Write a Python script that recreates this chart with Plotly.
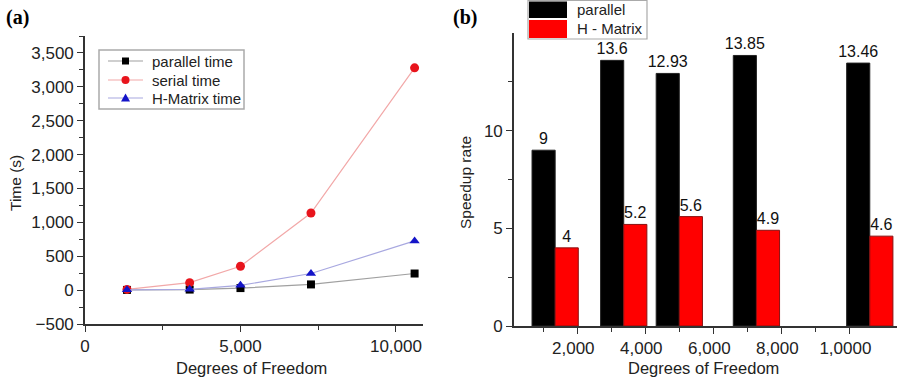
import plotly.graph_objects as go

# ---------------- data ----------------
dof = [1350, 3366, 5000, 7267, 10600]
parallel_time = [3, 8, 30, 84, 245]
serial_time = [10, 110, 353, 1138, 3280]
hmatrix_time = [5, 12, 70, 245, 726]

speedup_parallel = [9, 13.6, 12.93, 13.85, 13.46]
speedup_hmatrix = [4, 5.2, 5.6, 4.9, 4.6]

b_tickvals = [2000, 4000, 6000, 8000, 10000]
b_ticktext = ["2,000", "4,000", "6,000", "8,000", "1,0000"]

W, H = 902, 377
FONT = "Liberation Sans, Arial, sans-serif"
AX = "#333333"

C_PAR_LINE, C_PAR_MK = "#a0a0a0", "black"
C_SER_LINE, C_SER_MK = "#f2a8a8", "#e8141c"
C_HM_LINE, C_HM_MK = "#a8a8e0", "#1414c8"


def px_x(x):
    return x / W


def px_y(y):
    return 1 - y / H


fig = go.Figure()

# ---------------- panel (a) ----------------
fig.add_trace(go.Scatter(
    x=dof, y=parallel_time, name="parallel time", mode="lines+markers",
    line=dict(color=C_PAR_LINE, width=1.2),
    marker=dict(symbol="square", color=C_PAR_MK, size=8),
    xaxis="x", yaxis="y"))
fig.add_trace(go.Scatter(
    x=dof, y=serial_time, name="serial time", mode="lines+markers",
    line=dict(color=C_SER_LINE, width=1.2),
    marker=dict(symbol="circle", color=C_SER_MK, size=9),
    xaxis="x", yaxis="y"))
fig.add_trace(go.Scatter(
    x=dof, y=hmatrix_time, name="H-Matrix time", mode="lines+markers",
    line=dict(color=C_HM_LINE, width=1.2),
    marker=dict(symbol="triangle-up", color=C_HM_MK, size=9),
    xaxis="x", yaxis="y"))

# ---------------- panel (b) ----------------
BW = 680
fig.add_trace(go.Bar(
    x=dof, y=speedup_parallel, name="parallel", width=BW, offset=-BW,
    marker=dict(color="black", line=dict(color="#222", width=1)),
    text=[f"{v:g}" for v in speedup_parallel], textposition="outside",
    constraintext="none", cliponaxis=False,
    textfont=dict(family=FONT, size=16, color="#111"),
    xaxis="x2", yaxis="y2"))
fig.add_trace(go.Bar(
    x=dof, y=speedup_hmatrix, name="H - Matrix", width=BW, offset=0,
    marker=dict(color="#ff0000", line=dict(color="#8a1010", width=1)),
    text=[f"{v:g}" for v in speedup_hmatrix], textposition="outside",
    constraintext="none", cliponaxis=False,
    textfont=dict(family=FONT, size=16, color="#111"),
    xaxis="x2", yaxis="y2"))

axis_common = dict(
    showline=True, linecolor=AX, linewidth=1.6, ticks="outside",
    tickcolor=AX, tickwidth=1.3, ticklen=6, showgrid=False, zeroline=False,
    tickfont=dict(family=FONT, size=17, color="#222"), mirror=False,
)

fig.update_layout(
    width=W, height=H,
    margin=dict(l=0, r=0, t=0, b=0, autoexpand=False),
    paper_bgcolor="white", plot_bgcolor="white",
    font=dict(family=FONT, color="#222"),
    barmode="overlay",
    showlegend=False,
    xaxis=dict(domain=[px_x(85), px_x(423)], range=[0, 10870], anchor="y",
               tickvals=[0, 5000, 10000], ticktext=["0", "5,000", "10,000"],
               minor=dict(ticks="outside", tickvals=[2500, 7500], ticklen=4, tickcolor=AX),
               **axis_common),
    yaxis=dict(domain=[px_y(324), px_y(36)], range=[-500, 3750], anchor="x",
               tickvals=[-500, 0, 500, 1000, 1500, 2000, 2500, 3000, 3500],
               ticktext=["\u2212500", "0", "500", "1,000", "1,500", "2,000", "2,500", "3,000", "3,500"],
               minor=dict(ticks="outside", dtick=250, ticklen=4, tickcolor=AX),
               **axis_common),
    xaxis2=dict(domain=[px_x(514), px_x(897)], range=[140, 11400], anchor="y2",
                tickvals=b_tickvals, ticktext=b_ticktext, ticklabelshift=-4,
                minor=dict(ticks="outside", tickvals=[1000, 3000, 5000, 7000, 9000], ticklen=4, tickcolor=AX),
                **axis_common),
    yaxis2=dict(domain=[px_y(326), px_y(33)], range=[0, 15], anchor="x2",
                tickvals=[0, 5, 10],
                minor=dict(ticks="outside", tickvals=[2.5, 7.5, 12.5], ticklen=4, tickcolor=AX),
                **axis_common),
)

annotations = [
    dict(text="<b>(a)</b>", x=px_x(4), y=px_y(18), xanchor="left", yanchor="middle",
         font=dict(family="Liberation Serif, Times New Roman, serif", size=20, color="black")),
    dict(text="<b>(b)</b>", x=px_x(451), y=px_y(18), xanchor="left", yanchor="middle",
         font=dict(family="Liberation Serif, Times New Roman, serif", size=20, color="black")),
    dict(text="Time (s)", x=px_x(15), y=px_y(183), textangle=-90, xanchor="center", yanchor="middle",
         font=dict(family=FONT, size=15.5, color="#222")),
    dict(text="Speedup rate", x=px_x(465), y=px_y(183), textangle=-90, xanchor="center", yanchor="middle",
         font=dict(family=FONT, size=15.5, color="#222")),
    dict(text="Degrees of Freedom", x=px_x(251), y=px_y(368), xanchor="center", yanchor="middle",
         font=dict(family=FONT, size=16.5, color="#222")),
    dict(text="Degrees of Freedom", x=px_x(703), y=px_y(368), xanchor="center", yanchor="middle",
         font=dict(family=FONT, size=16.5, color="#222")),
]
shapes = []

# legend for panel (a): built from the trace names / styles
legend_a_rows = [61, 80, 98]
shapes.append(dict(type="rect", x0=px_x(99), x1=px_x(244), y0=px_y(109), y1=px_y(50),
                   line=dict(color="#aaaaaa", width=1.5), fillcolor="white", layer="above"))
for tr, yy in zip(fig.data[:3], legend_a_rows):
    shapes.append(dict(type="line", x0=px_x(108), x1=px_x(143), y0=px_y(yy), y1=px_y(yy),
                       line=dict(color=tr.line.color, width=1.2), layer="above"))
    mx, r = 125.5, 3.5
    sym = tr.marker.symbol
    col = tr.marker.color
    if sym == "square":
        shapes.append(dict(type="rect", x0=px_x(mx - r), x1=px_x(mx + r), y0=px_y(yy + r), y1=px_y(yy - r),
                           line=dict(width=0), fillcolor=col, layer="above"))
    elif sym == "circle":
        shapes.append(dict(type="circle", x0=px_x(mx - 4), x1=px_x(mx + 4), y0=px_y(yy + 4), y1=px_y(yy - 4),
                           line=dict(width=0), fillcolor=col, layer="above"))
    else:
        path = (f"M {px_x(mx - 4.5)},{px_y(yy + 3.5)} L {px_x(mx + 4.5)},{px_y(yy + 3.5)} "
                f"L {px_x(mx)},{px_y(yy - 4.5)} Z")
        shapes.append(dict(type="path", path=path, line=dict(width=0), fillcolor=col, layer="above"))
    annotations.append(dict(text=tr.name, x=px_x(150), y=px_y(yy), xanchor="left", yanchor="middle",
                            font=dict(family=FONT, size=15, color="#222")))

# legend for panel (b)
shapes.append(dict(type="rect", x0=px_x(528), x1=px_x(647), y0=px_y(39), y1=px_y(0.5),
                   line=dict(color="#aaaaaa", width=1.2), fillcolor="white", layer="below"))
for tr, (top, bot) in zip(fig.data[3:], [(1.5, 18), (20, 38)]):
    shapes.append(dict(type="rect", x0=px_x(529), x1=px_x(567), y0=px_y(bot), y1=px_y(top),
                       line=dict(width=0), fillcolor=tr.marker.color))
    annotations.append(dict(text=tr.name, x=px_x(575), y=px_y((top + bot) / 2), xanchor="left",
                            yanchor="middle", font=dict(family=FONT, size=15, color="#222")))

for a in annotations:
    a.update(xref="paper", yref="paper", showarrow=False)
for s in shapes:
    s.update(xref="paper", yref="paper")
fig.update_layout(annotations=annotations, shapes=shapes)

fig.write_html("out.html")
